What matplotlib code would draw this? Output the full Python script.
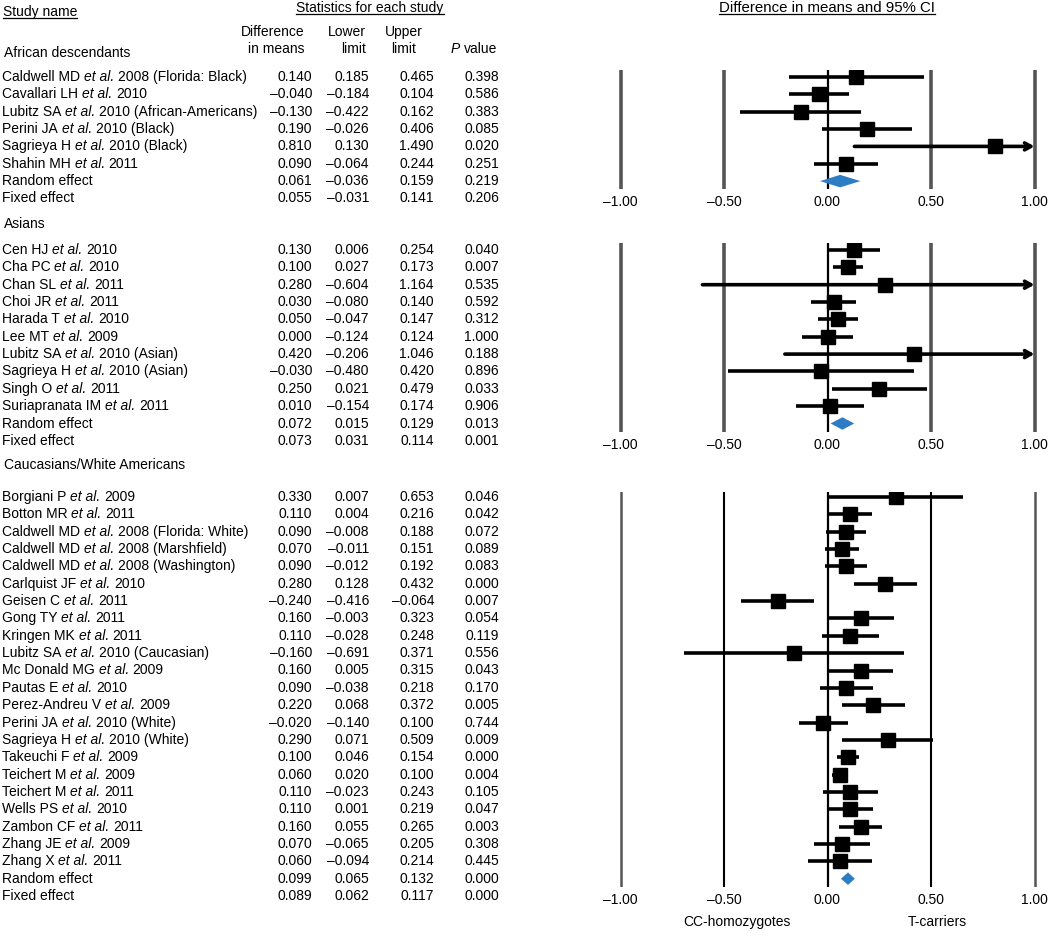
import matplotlib
matplotlib.use("Agg")
import matplotlib.pyplot as plt

plt.rcParams['font.family'] = ['Liberation Sans', 'DejaVu Sans']

# ---------------- data ----------------
af_names = ["Caldwell MD et al. 2008 (Florida: Black)", "Cavallari LH et al. 2010",
            "Lubitz SA et al. 2010 (African-Americans)", "Perini JA et al. 2010 (Black)",
            "Sagrieya H et al. 2010 (Black)", "Shahin MH et al. 2011",
            "Random effect", "Fixed effect"]
af_diff = [0.140, -0.040, -0.130, 0.190, 0.810, 0.090, 0.061, 0.055]
af_lower = [-0.185, -0.184, -0.422, -0.026, 0.130, -0.064, -0.036, -0.031]
af_upper = [0.465, 0.104, 0.162, 0.406, 1.490, 0.244, 0.159, 0.141]
af_p = [0.398, 0.586, 0.383, 0.085, 0.020, 0.251, 0.219, 0.206]
af_lower_printed = {0: "0.185"}  # value as printed in the source table

as_names = ["Cen HJ et al. 2010", "Cha PC et al. 2010", "Chan SL et al. 2011",
            "Choi JR et al. 2011", "Harada T et al. 2010", "Lee MT et al. 2009",
            "Lubitz SA et al. 2010 (Asian)", "Sagrieya H et al. 2010 (Asian)",
            "Singh O et al. 2011", "Suriapranata IM et al. 2011",
            "Random effect", "Fixed effect"]
as_diff = [0.130, 0.100, 0.280, 0.030, 0.050, 0.000, 0.420, -0.030, 0.250, 0.010, 0.072, 0.073]
as_lower = [0.006, 0.027, -0.604, -0.080, -0.047, -0.124, -0.206, -0.480, 0.021, -0.154, 0.015, 0.031]
as_upper = [0.254, 0.173, 1.164, 0.140, 0.147, 0.124, 1.046, 0.420, 0.479, 0.174, 0.129, 0.114]
as_p = [0.040, 0.007, 0.535, 0.592, 0.312, 1.000, 0.188, 0.896, 0.033, 0.906, 0.013, 0.001]

ca_names = ["Borgiani P et al. 2009", "Botton MR et al. 2011",
            "Caldwell MD et al. 2008 (Florida: White)", "Caldwell MD et al. 2008 (Marshfield)",
            "Caldwell MD et al. 2008 (Washington)", "Carlquist JF et al. 2010",
            "Geisen C et al. 2011", "Gong TY et al. 2011", "Kringen MK et al. 2011",
            "Lubitz SA et al. 2010 (Caucasian)", "Mc Donald MG et al. 2009",
            "Pautas E et al. 2010", "Perez-Andreu V et al. 2009",
            "Perini JA et al. 2010 (White)", "Sagrieya H et al. 2010 (White)",
            "Takeuchi F et al. 2009", "Teichert M et al. 2009", "Teichert M et al. 2011",
            "Wells PS et al. 2010", "Zambon CF et al. 2011", "Zhang JE et al. 2009",
            "Zhang X et al. 2011", "Random effect", "Fixed effect"]
ca_diff = [0.330, 0.110, 0.090, 0.070, 0.090, 0.280, -0.240, 0.160, 0.110, -0.160, 0.160, 0.090,
           0.220, -0.020, 0.290, 0.100, 0.060, 0.110, 0.110, 0.160, 0.070, 0.060, 0.099, 0.089]
ca_lower = [0.007, 0.004, -0.008, -0.011, -0.012, 0.128, -0.416, -0.003, -0.028, -0.691, 0.005,
            -0.038, 0.068, -0.140, 0.071, 0.046, 0.020, -0.023, 0.001, 0.055, -0.065, -0.094,
            0.065, 0.062]
ca_upper = [0.653, 0.216, 0.188, 0.151, 0.192, 0.432, -0.064, 0.323, 0.248, 0.371, 0.315, 0.218,
            0.372, 0.100, 0.509, 0.154, 0.100, 0.243, 0.219, 0.265, 0.205, 0.214, 0.132, 0.117]
ca_p = [0.046, 0.042, 0.072, 0.089, 0.083, 0.000, 0.007, 0.054, 0.119, 0.556, 0.043, 0.170,
        0.005, 0.744, 0.009, 0.000, 0.004, 0.105, 0.047, 0.003, 0.308, 0.445, 0.000, 0.000]

tick_vals = [-1.0, -0.5, 0.0, 0.5, 1.0]
tick_labels = ["\u20131.00", "\u20130.50", "0.00", "0.50", "1.00"]

# ---------------- layout ----------------
W, H = 1050, 939
FS = 10
SPACE_PT = 0.278 * FS  # width of a space in Liberation Sans
fig = plt.figure(figsize=(W / 100, H / 100), dpi=100)
bg = fig.add_axes([0, 0, 1, 1])
bg.set_xlim(0, W)
bg.set_ylim(H, 0)
bg.axis('off')

X_ZERO, X_UNIT = 827.5, 207.0
AX_L, AX_R = 600, 1049
VMIN = (AX_L - X_ZERO) / X_UNIT
VMAX = (AX_R - X_ZERO) / X_UNIT
COL_DIFF, COL_LOW, COL_UP, COL_P = 312, 369, 434, 499
DIAMOND = '#2e7cc4'
SP = 17.35


def fmt(v):
    s = f"{abs(v):.3f}"
    return "\u2013" + s if v < 0 else s


def rich_label(x, y, s, fs=FS):
    """Draw a label where 'et al.' is italic, chaining pieces left to right."""
    if "et al." not in s:
        return bg.text(x, y, s, ha='left', va='center', fontsize=fs)
    pre, post = s.split("et al.", 1)
    t1 = bg.text(x, y, pre.rstrip(), ha='left', va='center', fontsize=fs)
    t2 = bg.annotate("et al.", xy=(1, 0), xycoords=t1, xytext=(SPACE_PT, 0),
                     textcoords='offset points', ha='left', va='bottom',
                     fontsize=fs, fontstyle='italic')
    post = post.strip()
    if post:
        bg.annotate(post, xy=(1, 0), xycoords=t2, xytext=(SPACE_PT, 0),
                    textcoords='offset points', ha='left', va='bottom', fontsize=fs)
    return t1


def panel(names, diff, lower, upper, pvals, header, header_y, row0,
          line_top, line_bot, outer_color, outer_lw, half_color, half_lw,
          lower_printed=None):
    lower_printed = lower_printed or {}
    bg.text(4, header_y, header, ha='left', va='center', fontsize=FS)
    n = len(names)
    for i in range(n):
        y = row0 + i * SP
        rich_label(2, y, names[i])
        bg.text(COL_DIFF, y, fmt(diff[i]), ha='right', va='center', fontsize=FS)
        bg.text(COL_LOW, y, lower_printed.get(i, fmt(lower[i])), ha='right', va='center', fontsize=FS)
        bg.text(COL_UP, y, fmt(upper[i]), ha='right', va='center', fontsize=FS)
        bg.text(COL_P, y, fmt(pvals[i]), ha='right', va='center', fontsize=FS)

    ax = fig.add_axes([AX_L / W, 1 - line_bot / H, (AX_R - AX_L) / W, (line_bot - line_top) / H])
    ax.set_xlim(VMIN, VMAX)
    ax.set_ylim((line_bot - row0) / SP, (line_top - row0) / SP)
    for s in ax.spines.values():
        s.set_visible(False)
    ax.set_yticks([])
    ax.set_xticks(tick_vals)
    ax.set_xticklabels(tick_labels, fontsize=FS)
    ax.tick_params(axis='x', length=0, pad=4)
    ax.patch.set_alpha(0)
    for v in tick_vals:
        if abs(v) == 1.0:
            ax.axvline(v, color=outer_color, lw=outer_lw, zorder=1)
        elif v == 0:
            ax.axvline(v, color='black', lw=1.6, zorder=1)
        else:
            ax.axvline(v, color=half_color, lw=half_lw, zorder=1)

    n_studies = n - 2
    for i in range(n_studies):
        lo, up, m = lower[i], upper[i], diff[i]
        if up > 1.0:
            ax.annotate('', xy=(1.0, i), xytext=(lo, i),
                        arrowprops=dict(arrowstyle='->,head_length=0.45,head_width=0.25',
                                        lw=2.6, color='black', shrinkA=0, shrinkB=0),
                        zorder=3)
        else:
            ax.plot([lo, up], [i, i], color='black', lw=2.6, solid_capstyle='butt', zorder=3)
        ax.plot([m], [i], marker='s', ms=9.5, color='black', zorder=4)
    r = n - 2
    h = 0.36
    ax.fill([lower[r], diff[r], upper[r], diff[r]], [r, r - h, r, r + h],
            color=DIAMOND, lw=0, zorder=4)
    return ax


panel(af_names, af_diff, af_lower, af_upper, af_p, "African descendants", 53,
      77, 70, 189, '#555555', 2.6, '#555555', 2.6, af_lower_printed)
panel(as_names, as_diff, as_lower, as_upper, as_p, "Asians", 224,
      250, 243, 432, '#555555', 2.6, '#555555', 2.6)
panel(ca_names, ca_diff, ca_lower, ca_upper, ca_p, "Caucasians/White Americans", 465,
      497, 492, 887, '#555555', 1.8, 'black', 1.5)

# ---------------- headers ----------------
hdrs = [
    bg.text(3, 16, "Study name", ha='left', va='baseline', fontsize=FS),
    bg.text(370, 12, "Statistics for each study", ha='center', va='baseline', fontsize=FS),
    bg.text(827, 12, "Difference in means and 95% CI", ha='center', va='baseline', fontsize=10.8),
]
bg.text(305, 32, "Difference", ha='right', va='center', fontsize=FS)
bg.text(305, 49, "in means", ha='right', va='center', fontsize=FS)
bg.text(366, 32, "Lower", ha='right', va='center', fontsize=FS)
bg.text(366, 49, "limit", ha='right', va='center', fontsize=FS)
bg.text(404, 32, "Upper", ha='center', va='center', fontsize=FS)
bg.text(404, 49, "limit", ha='center', va='center', fontsize=FS)
tv = bg.text(497, 49, "value", ha='right', va='center', fontsize=FS)
bg.annotate("P", xy=(0, 0), xycoords=tv, xytext=(-SPACE_PT, 0), textcoords='offset points',
            ha='right', va='bottom', fontsize=FS, fontstyle='italic')

bg.text(737, 922, "CC-homozygotes", ha='center', va='center', fontsize=FS)
bg.text(937, 922, "T-carriers", ha='center', va='center', fontsize=FS)

fig.canvas.draw()
inv = bg.transData.inverted()
for t in hdrs:
    bb = t.get_window_extent()
    x0, _ = inv.transform((bb.x0, bb.y0))
    x1, _ = inv.transform((bb.x1, bb.y0))
    yb = t.get_position()[1] + 2
    bg.plot([x0, x1], [yb, yb], color='black', lw=0.9)

fig.savefig("out.png", dpi=100)
